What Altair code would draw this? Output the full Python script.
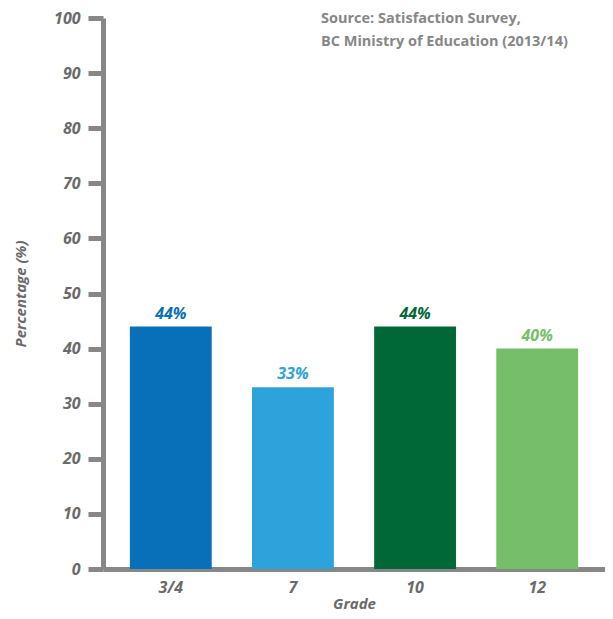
import altair as alt
import pandas as pd

grades = ["3/4", "7", "10", "12"]
values = [44, 33, 44, 40]
labels = ["44%", "33%", "44%", "40%"]
colors = ["#0870B8", "#2EA2DA", "#006837", "#76BE6A"]
y_ticks = [0, 10, 20, 30, 40, 50, 60, 70, 80, 90, 100]
source_lines = ["Source: Satisfaction Survey,", "BC Ministry of Education (2013/14)"]

df = pd.DataFrame({"Grade": grades, "Value": values, "Label": labels})

FONT = "Open Sans"
GREY = "#878787"
TXT = "#6a6a6a"

x_enc = alt.X(
    "Grade:N",
    sort=grades,
    scale=alt.Scale(paddingInner=0.33, paddingOuter=0.22),
    axis=alt.Axis(
        title="Grade",
        labelAngle=0,
        ticks=False,
        domainColor=GREY,
        domainWidth=5,
        labelFont=FONT,
        labelFontStyle="italic",
        labelFontWeight="bold",
        labelFontSize=16,
        labelColor=TXT,
        labelPadding=10,
        titleFont=FONT,
        titleFontStyle="italic",
        titleFontWeight="bold",
        titleFontSize=15,
        titleColor=TXT,
        titlePadding=1,
        grid=False,
    ),
)
y_enc = alt.Y(
    "Value:Q",
    scale=alt.Scale(domain=[0, 100], nice=False),
    axis=alt.Axis(
        title="Percentage (%)",
        values=y_ticks,
        grid=False,
        domainColor=GREY,
        domainWidth=5,
        tickColor=GREY,
        tickWidth=5,
        tickSize=15,
        labelFont=FONT,
        labelFontStyle="italic",
        labelFontWeight="bold",
        labelFontSize=16,
        labelColor=TXT,
        labelPadding=8,
        titleFont=FONT,
        titleFontStyle="italic",
        titleFontWeight="bold",
        titleFontSize=15,
        titleColor=TXT,
        titlePadding=25,
    ),
)
color_enc = alt.Color("Grade:N", scale=alt.Scale(domain=grades, range=colors), legend=None)

bars = alt.Chart(df).mark_bar().encode(x=x_enc, y=y_enc, color=color_enc)

text = alt.Chart(df).mark_text(
    font=FONT, fontStyle="italic", fontWeight="bold", fontSize=16, dy=-13
).encode(x=alt.X("Grade:N", sort=grades), y="Value:Q", text="Label:N", color=color_enc)

src = alt.Chart(pd.DataFrame({"t": [source_lines]})).mark_text(
    font=FONT, fontWeight="bold", fontSize=14.5, color=GREY, align="left",
    baseline="top", lineHeight=23
).encode(x=alt.value(218), y=alt.value(-6), text="t")

chart = (
    alt.layer(bars, text, src)
    .properties(width=502, height=551, padding={"left": 95, "top": 10, "right": 0, "bottom": 42}, autosize="none")
    .configure_view(stroke=None)
)

chart.save("out.html", embed_options={"renderer": "svg", "actions": False})
